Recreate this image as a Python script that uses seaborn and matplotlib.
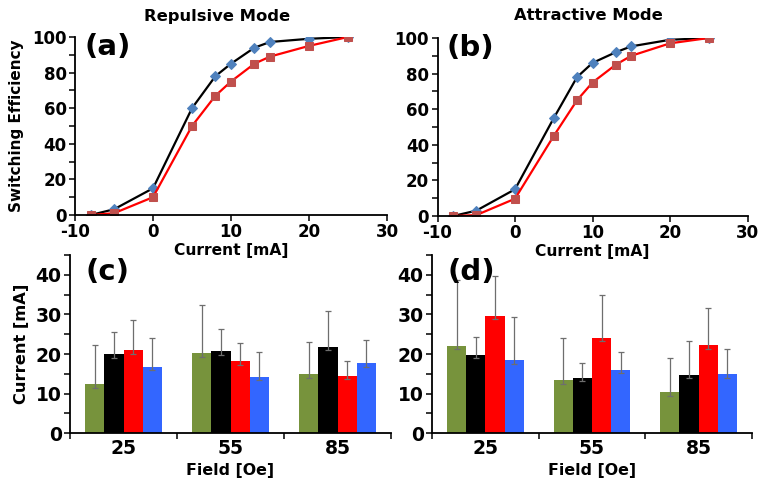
import numpy as np
import pandas as pd
import matplotlib
matplotlib.use('agg')
import matplotlib.pyplot as plt
from matplotlib.ticker import MultipleLocator, FixedLocator
import seaborn as sns

# switching efficiency vs current
current = [-8, -5, 0, 5, 8, 10, 13, 15, 20, 25]
rep_blue = [0, 3.2, 15, 60, 78, 85, 94, 97.2, 99, 100]
rep_red = [0, 1, 10, 50, 67, 75, 85, 89, 95, 100]
att_blue = [0, 3, 15, 55, 78, 86, 92, 95.3, 99, 100]
att_red = [0, 0.5, 9.7, 45, 65, 75, 85, 90, 97, 100]

# bar charts: field vs current, four groups
fields = ['25', '55', '85']
groups = ['g1', 'g2', 'g3', 'g4']
c_vals = {'g1': [12.4, 20.2, 14.9], 'g2': [19.9, 20.7, 21.9],
          'g3': [20.9, 18.2, 14.5], 'g4': [16.8, 14.3, 17.7]}
c_tops = {'g1': [22.4, 32.4, 23.1], 'g2': [25.5, 26.3, 30.9],
          'g3': [28.6, 22.7, 18.2], 'g4': [24.1, 20.4, 23.5]}
d_vals = {'g1': [22.1, 13.4, 10.4], 'g2': [19.8, 14.0, 14.8],
          'g3': [29.7, 24.1, 22.3], 'g4': [18.5, 16.0, 14.9]}
d_tops = {'g1': [38.6, 24.1, 19.1], 'g2': [24.3, 17.7, 23.3],
          'g3': [39.7, 34.8, 31.6], 'g4': [29.4, 20.6, 21.4]}
low_err = 0.9

bar_colors = ['#77933C', '#000000', '#FF0000', '#3366FF']

sns.set_style('ticks')
plt.rcParams['font.family'] = ['DejaVu Sans']
plt.rcParams['font.weight'] = 'bold'
plt.rcParams['axes.unicode_minus'] = False
for key in ['text.color', 'axes.labelcolor', 'xtick.color', 'ytick.color',
            'xtick.labelcolor', 'ytick.labelcolor']:
    plt.rcParams[key] = 'black'

fig = plt.figure(figsize=(7.63, 4.87), dpi=100)
W, H = 763, 487

def add_ax(left, right, top, bottom):
    ax = fig.add_axes([left / W, 1 - bottom / H, (right - left) / W, (bottom - top) / H])
    ax.patch.set_visible(False)
    return ax

def style_axis(ax, size):
    sns.despine(ax=ax)
    for s in ['left', 'bottom']:
        ax.spines[s].set_linewidth(1.3)
        ax.spines[s].set_color('black')
    ax.tick_params(axis='both', which='both', direction='out', width=1.1,
                   color='black', labelcolor='black', labelsize=size, pad=2)
    ax.tick_params(which='major', length=4)
    ax.tick_params(which='minor', length=4)
    for lab in ax.get_xticklabels() + ax.get_yticklabels():
        lab.set_fontweight('bold')

def line_panel(ax, blue, red, letter, ylabel):
    sns.lineplot(x=current, y=blue, ax=ax, color='black', linewidth=1.6,
                 marker='D', markersize=5, markerfacecolor='#4F81BD',
                 markeredgecolor='#4F81BD', errorbar=None)
    sns.lineplot(x=current, y=red, ax=ax, color='#FF0000', linewidth=1.6,
                 marker='s', markersize=6, markerfacecolor='#C0504D',
                 markeredgecolor='#C0504D', errorbar=None)
    ax.set_xlim(-10, 30)
    ax.set_ylim(0, 100)
    ax.xaxis.set_major_locator(MultipleLocator(10))
    ax.yaxis.set_major_locator(MultipleLocator(20))
    ax.yaxis.set_minor_locator(MultipleLocator(10))
    ax.set_xlabel('Current [mA]', fontsize=11.2, fontweight='bold', labelpad=1)
    ax.set_ylabel(ylabel, fontsize=11, fontweight='bold', labelpad=6)
    style_axis(ax, 12)
    ax.text(0.03, 0.945, letter, transform=ax.transAxes, fontsize=21,
            fontweight='bold', va='center', ha='left', color='black')

def bar_panel(ax, vals, tops, letter, ylabel):
    df = pd.DataFrame([(f, g, vals[g][i]) for g in groups for i, f in enumerate(fields)],
                      columns=['field', 'group', 'current'])
    sns.barplot(data=df, x='field', y='current', hue='group', order=fields,
                hue_order=groups, palette=bar_colors, width=0.72, errorbar=None,
                saturation=1, legend=False, ax=ax, edgecolor='none')
    for cont, g in zip(ax.containers, groups):
        xs = [b.get_x() + b.get_width() / 2 for b in cont]
        ys = vals[g]
        up = [t - v for t, v in zip(tops[g], ys)]
        ax.errorbar(xs, ys, yerr=[[low_err] * len(ys), up], fmt='none',
                    ecolor='#6E6E6E', elinewidth=0.9, capsize=2.2, capthick=0.9)
    ax.set_xlim(-0.5, 2.5)
    ax.set_ylim(0, 45)
    ax.yaxis.set_major_locator(MultipleLocator(10))
    ax.yaxis.set_minor_locator(MultipleLocator(5))
    ax.xaxis.set_minor_locator(FixedLocator([-0.5, 0.5, 1.5, 2.5]))
    ax.set_xlabel('Field [Oe]', fontsize=11.4, fontweight='bold', labelpad=4)
    ax.set_ylabel(ylabel, fontsize=11.7, fontweight='bold', labelpad=5)
    style_axis(ax, 13.5)
    ax.tick_params(axis='x', which='major', length=0, pad=4)
    ax.text(0.048, 0.905, letter, transform=ax.transAxes, fontsize=21,
            fontweight='bold', va='center', ha='left', color='black')

ax_a = add_ax(75, 387, 37, 215)
line_panel(ax_a, rep_blue, rep_red, '(a)', 'Switching Efficiency')
ax_b = add_ax(437.5, 747.5, 38, 216)
line_panel(ax_b, att_blue, att_red, '(b)', '')

ax_c = add_ax(70, 391, 255, 433.3)
bar_panel(ax_c, c_vals, c_tops, '(c)', 'Current [mA]')
ax_d = add_ax(432, 752, 255, 433.3)
bar_panel(ax_d, d_vals, d_tops, '(d)', '')

fig.text(217 / W, 1 - 16 / H, 'Repulsive Mode', fontsize=11.8, fontweight='bold',
         ha='center', va='center', color='black')
fig.text(588 / W, 1 - 16 / H, 'Attractive Mode', fontsize=11.8, fontweight='bold',
         ha='center', va='center', color='black')

fig.savefig('out.png', dpi=100)
